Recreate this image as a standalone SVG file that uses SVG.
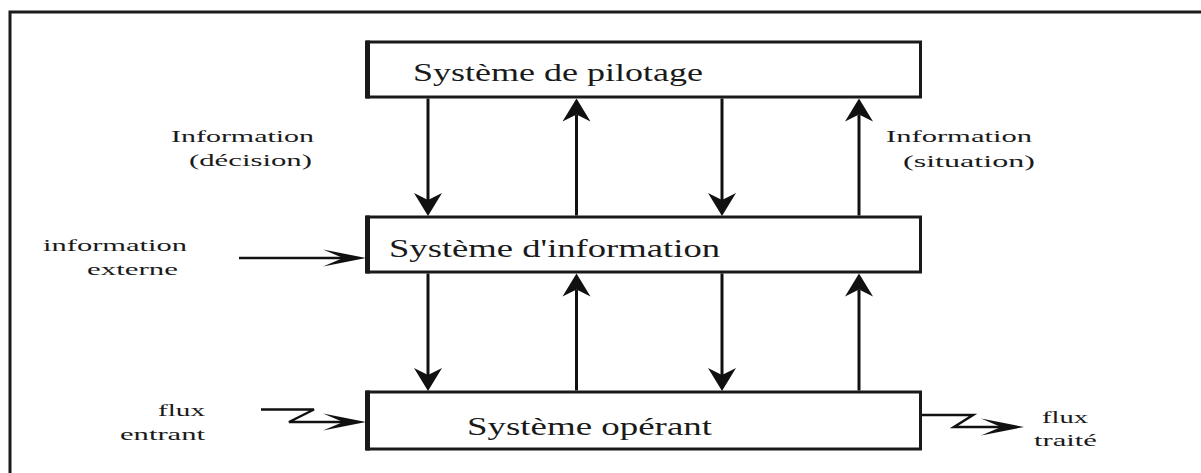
<svg xmlns="http://www.w3.org/2000/svg" width="1201" height="473" viewBox="0 0 1201 473">
  <style>
    .frame { fill: none; stroke: #1a1a1a; stroke-width: 3; }
    .box { fill: #ffffff; stroke: #1a1a1a; stroke-width: 3; }
    .box-edge { stroke: #1a1a1a; stroke-width: 5; }
    .flow { fill: none; stroke: #111111; stroke-width: 3; }
    .thin { fill: none; stroke: #111111; stroke-width: 2.5; }
    .title { font-family: "Liberation Serif", "Times New Roman", serif; font-size: 24.5px; fill: #1a1a1a; }
    .label { font-family: "Liberation Serif", "Times New Roman", serif; font-size: 16.5px; fill: #1a1a1a; }
  </style>
  <defs>
    <!-- broad barbed head for the vertical information flows -->
    <marker id="head" viewBox="-8 -15 25 30" markerWidth="25" markerHeight="30" refX="0" refY="0" orient="auto" markerUnits="userSpaceOnUse">
      <path d="M16,0 L-7,-14 L0,0 L-7,14 Z" fill="#111111"/>
    </marker>
    <!-- slender barbed head for the side inputs and outputs -->
    <marker id="dart" viewBox="-21 -10 45 20" markerWidth="45" markerHeight="20" refX="0" refY="0" orient="auto" markerUnits="userSpaceOnUse">
      <path d="M23,0 L-20,-8.5 L0,0 L-20,8.5 Z" fill="#111111"/>
    </marker>
  </defs>

  <rect width="1201" height="473" fill="#ffffff"/>
  <path class="frame" d="M10,475 V12 H1203"/>

  <g id="pilotage">
    <rect class="box" x="367.5" y="42" width="553" height="55"/>
    <line class="box-edge" x1="367.5" y1="40.5" x2="367.5" y2="98.5"/>
    <text class="title" x="413" y="80.7" textLength="290" lengthAdjust="spacingAndGlyphs">Système de pilotage</text>
  </g>

  <g id="information">
    <rect class="box" x="367.5" y="217" width="553" height="55"/>
    <line class="box-edge" x1="367.5" y1="215.5" x2="367.5" y2="273.5"/>
    <text class="title" x="389" y="256.7" textLength="331" lengthAdjust="spacingAndGlyphs">Système d'information</text>
  </g>

  <g id="operant">
    <rect class="box" x="367.5" y="392" width="553" height="57"/>
    <line class="box-edge" x1="367.5" y1="390.5" x2="367.5" y2="450.5"/>
    <text class="title" x="467" y="435" textLength="245" lengthAdjust="spacingAndGlyphs">Système opérant</text>
  </g>

  <g id="labels">
    <text class="label" x="171" y="142" textLength="143" lengthAdjust="spacingAndGlyphs">Information</text>
    <text class="label" x="189" y="166" textLength="123" lengthAdjust="spacingAndGlyphs">(décision)</text>
    <text class="label" x="886" y="142" textLength="146" lengthAdjust="spacingAndGlyphs">Information</text>
    <text class="label" x="903" y="167" textLength="132" lengthAdjust="spacingAndGlyphs">(situation)</text>
    <text class="label" x="43" y="250.5" textLength="144" lengthAdjust="spacingAndGlyphs">information</text>
    <text class="label" x="87" y="274.5" textLength="91" lengthAdjust="spacingAndGlyphs">externe</text>
    <text class="label" x="158" y="415.5" textLength="47" lengthAdjust="spacingAndGlyphs">flux</text>
    <text class="label" x="120" y="439.5" textLength="85" lengthAdjust="spacingAndGlyphs">entrant</text>
    <text class="label" x="1042" y="423" textLength="46" lengthAdjust="spacingAndGlyphs">flux</text>
    <text class="label" x="1034" y="446" textLength="63" lengthAdjust="spacingAndGlyphs">traité</text>
  </g>

  <g id="connectors">
    <!-- pilotage <-> information -->
    <line class="flow" x1="428" y1="98.5" x2="428" y2="200" marker-end="url(#head)"/>
    <line class="flow" x1="576.5" y1="215.5" x2="576.5" y2="114.5" marker-end="url(#head)"/>
    <line class="flow" x1="722" y1="98.5" x2="722" y2="200" marker-end="url(#head)"/>
    <line class="flow" x1="859" y1="215.5" x2="859" y2="114.5" marker-end="url(#head)"/>
    <!-- information <-> operant -->
    <line class="flow" x1="428" y1="273.5" x2="428" y2="375" marker-end="url(#head)"/>
    <line class="flow" x1="576.5" y1="390.5" x2="576.5" y2="289.5" marker-end="url(#head)"/>
    <line class="flow" x1="722" y1="273.5" x2="722" y2="375" marker-end="url(#head)"/>
    <line class="flow" x1="859" y1="390.5" x2="859" y2="289.5" marker-end="url(#head)"/>
    <!-- external information entering the information system -->
    <line class="thin" x1="239" y1="258" x2="343" y2="258" marker-end="url(#dart)"/>
    <!-- incoming physical flow -->
    <path class="thin" d="M261,409.5 H314 L289,422 H343" marker-end="url(#dart)"/>
    <!-- processed flow leaving the operating system -->
    <path class="thin" d="M922,415 H973 L954,427 H1001" marker-end="url(#dart)"/>
  </g>
</svg>
